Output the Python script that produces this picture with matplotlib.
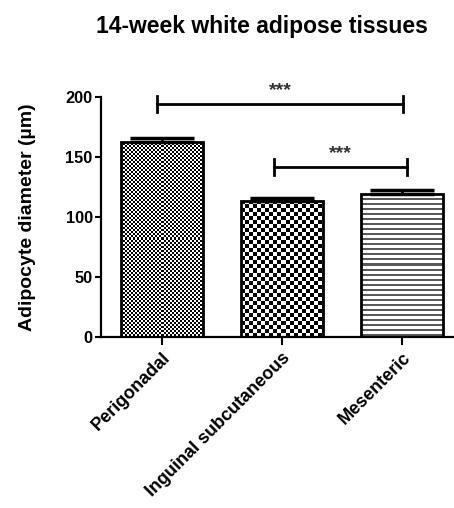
import matplotlib
matplotlib.use('Agg')
import matplotlib.pyplot as plt
import numpy as np

plt.rcParams['font.family'] = ['Liberation Sans', 'DejaVu Sans']
plt.rcParams['font.weight'] = 'bold'

# data
tissues = ['Perigonadal', 'Inguinal subcutaneous', 'Mesenteric']
diameter = [162.5, 113.5, 119.5]
sem = [3.5, 2.5, 3.0]
yticks = [0, 50, 100, 150, 200]
# significance brackets: (left x, right x, height)
brackets = [(-0.04, 2.01, 194), (0.93, 2.04, 141.5)]
stars = ['***', '***']

fig = plt.figure(figsize=(4.54, 5.08), dpi=100)
ax = fig.add_axes([101 / 454, 1 - 337 / 508, 353 / 454, 240 / 508])

x = np.arange(len(tissues))
bars = ax.bar(x, diameter, width=0.69, facecolor='none', edgecolor='black',
              linewidth=2.0, zorder=3)
ax.errorbar(x, diameter, yerr=[np.zeros(3), sem], fmt='none', ecolor='black',
            elinewidth=2.0, capsize=23, capthick=2.5, zorder=2)

ax.set_xlim(-0.508, 2.433)
ax.set_ylim(0, 200)
ax.set_yticks(yticks)
ax.set_xticks(x)
ax.set_xticklabels(tissues, rotation=45, ha='right', va='top',
                   rotation_mode='anchor', fontsize=13, fontweight='bold')
ax.tick_params(axis='y', labelsize=11.8, width=1.5, length=4, pad=2)
ax.tick_params(axis='x', width=1.5, length=6, pad=3)
for s in ['top', 'right']:
    ax.spines[s].set_visible(False)
for s in ['left', 'bottom']:
    ax.spines[s].set_linewidth(1.6)
ax.set_ylabel('Adipocyte diameter (\u00b5m)', fontsize=14, fontweight='bold', labelpad=21)

# fill patterns (pixel sized) clipped to the bars
fig.canvas.draw()


def pattern(kind, ny, nx):
    i, j = np.mgrid[0:ny, 0:nx]
    if kind == 'fine':
        return ((i // 2 + j // 2) % 2).astype(float)
    if kind == 'coarse':
        return ((i // 4 + j // 4) % 2).astype(float)
    return np.where(i % 5 < 2, 0.35, 1.0)


for rect, kind in zip(bars, ['fine', 'coarse', 'lines']):
    bb = rect.get_window_extent()
    nx, ny = max(int(bb.width), 1), max(int(bb.height), 1)
    x0, y0 = rect.get_x(), rect.get_y()
    img = ax.imshow(pattern(kind, ny, nx), cmap='gray', vmin=0, vmax=1,
                    extent=(x0, x0 + rect.get_width(), y0, y0 + rect.get_height()),
                    interpolation='nearest', aspect='auto', zorder=1)
    img.set_clip_path(rect)
ax.set_xlim(-0.508, 2.433)
ax.set_ylim(0, 200)

for (xa, xb, h), st in zip(brackets, stars):
    ax.plot([xa, xb], [h, h], color='black', lw=2.0, clip_on=False, zorder=4)
    for xe in (xa, xb):
        ax.plot([xe, xe], [h - 6.5, h + 6.5], color='black', lw=2.0,
                clip_on=False, zorder=4)
    ax.text((xa + xb) / 2, h + 11, st, ha='center', va='center', fontsize=14,
            color='#333333', clip_on=False)

fig.text(262 / 454, 1 - 27 / 508, '14-week white adipose tissues', ha='center',
         va='center', fontsize=16.5, fontweight='bold')

fig.savefig('out.png', dpi=100)
